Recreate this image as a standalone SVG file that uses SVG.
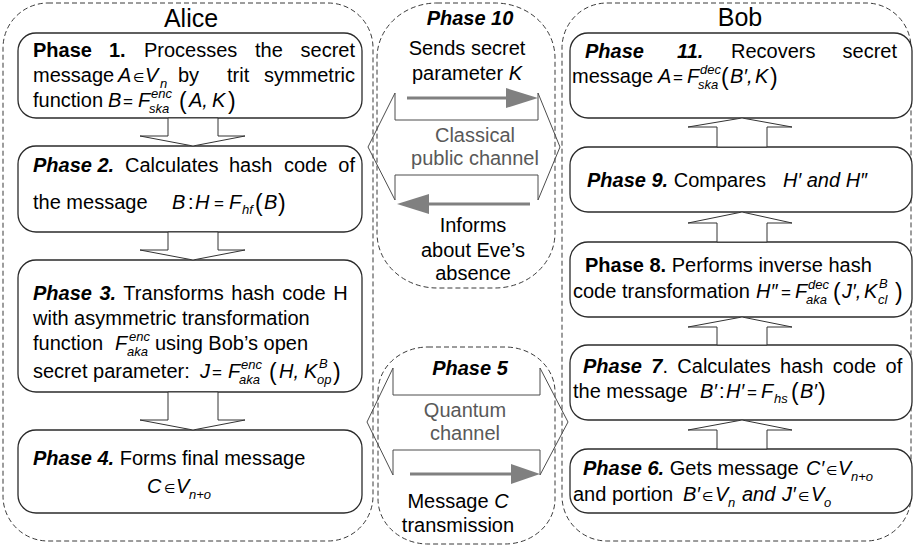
<svg xmlns="http://www.w3.org/2000/svg" width="914" height="546" viewBox="0 0 914 546">
<style>
text { font-family: "Liberation Sans", Arial, "DejaVu Sans", sans-serif; font-size: 20px; fill: #000; }
.b { font-weight: bold; }
.bi { font-weight: bold; font-style: italic; }
.i { font-style: italic; }
.s { font-size: 13px; font-style: italic; }
.p { font-size: 23px; }
.q { font-size: 17px; }
.e { font-family: "DejaVu Sans", sans-serif; font-size: 13px; }
.ttl { font-size: 25px; text-anchor: middle; }
.c { text-anchor: middle; }
.r { text-anchor: end; }
.g { fill: #595959; }
.box { fill: #fff; stroke: #2b2b2b; stroke-width: 1.3; }
.cont { fill: none; stroke: #3a3a3a; stroke-width: 1; stroke-dasharray: 5 3; }
.hol { fill: #fff; stroke: #333; stroke-width: 1; }
.chan { fill: none; stroke: #4d4d4d; stroke-width: 1; }
.ga { stroke: #808080; stroke-width: 3; }
.gh { fill: #808080; }
</style>
<rect width="914" height="546" fill="#fff"/>

<g id="alice">
<rect class="cont" x="3" y="3" width="370" height="538" rx="45"/>
<text class="ttl" x="191" y="27">Alice</text>
</g>

<g id="bob">
<rect class="cont" x="562" y="3" width="349" height="538" rx="45"/>
<text class="ttl" x="740" y="26">Bob</text>
</g>

<g id="phase10">
<rect class="cont" x="377" y="3" width="178" height="285" rx="60" ry="55"/>
<polygon class="chan" points="395,93 395,120 538,120 538,93 560,147 538,200 538,175 395,175 395,200 368,147"/>
<text class="bi c" x="470" y="25">Phase 10</text>
<text class="c" x="467" y="55">Sends secret</text>
<text class="c" x="467" y="80">parameter <tspan class="i">K</tspan></text>
<text class="c g" x="475" y="142">Classical</text>
<text class="c g" x="475" y="165">public channel</text>
<text class="c" x="473" y="232">Informs</text>
<text class="c" x="473" y="257">about Eve’s</text>
<text class="c" x="473" y="280">absence</text>
</g>

<g id="phase5">
<rect class="cont" x="378" y="347" width="177" height="197" rx="50" ry="45"/>
<polygon class="chan" points="393,368 393,395 540,395 540,368 568,422 540,475 540,450 393,450 393,475 367,422"/>
<text class="bi c" x="470" y="375">Phase 5</text>
<text class="c g" x="465" y="417">Quantum</text>
<text class="c g" x="465" y="440">channel</text>
<text class="c" x="458" y="508">Message <tspan class="i">C</tspan></text>
<text class="c" x="458" y="532">transmission</text>
</g>

<g id="phase1">
<rect class="box" x="18" y="33" width="344" height="85" rx="18"/>
<text class="b" x="33" y="57">Phase</text>
<text class="b" x="109" y="57">1.</text>
<text x="144" y="57">Processes</text>
<text x="255" y="57">the</text>
<text class="r" x="355" y="57">secret</text>
<text x="33" y="82">message</text>
<text class="i" x="118" y="82">A</text>
<text class="e" x="133" y="82">∈</text>
<text class="i" x="145" y="82">V</text>
<text class="s" x="160" y="88">n</text>
<text x="178" y="82">by</text>
<text x="227" y="82">trit</text>
<text class="r" x="355" y="82">symmetric</text>
<text x="33" y="107">function</text>
<text class="i" x="108" y="107">B</text>
<text class="q" x="123" y="107">=</text>
<text class="i" x="138" y="107">F</text>
<text class="s" x="151" y="98">enc</text>
<text class="s" x="149" y="113">ska</text>
<text class="p" x="179" y="109">(</text>
<text class="i" x="189" y="107">A,</text>
<text class="i" x="212" y="107">K</text>
<text class="p" x="228" y="109">)</text>
</g>

<g id="phase2">
<rect class="box" x="18" y="146" width="344" height="86" rx="18"/>
<text class="bi" x="33" y="172">Phase 2.</text>
<text x="125" y="172">Calculates</text>
<text x="229" y="172">hash</text>
<text x="284" y="172">code</text>
<text class="r" x="355" y="172">of</text>
<text x="33" y="209">the message</text>
<text class="i" x="172" y="209">B</text>
<text x="188" y="209">:</text>
<text class="i" x="195" y="209">H</text>
<text class="q" x="214" y="209">=</text>
<text class="i" x="229" y="209">F</text>
<text class="s" x="242" y="214">hf</text>
<text class="p" x="255" y="211">(</text>
<text class="i" x="264" y="209">B</text>
<text class="p" x="278" y="211">)</text>
</g>

<g id="phase3">
<rect class="box" x="18" y="260" width="344" height="132" rx="18"/>
<text x="33" y="300" word-spacing="2"><tspan class="bi">Phase 3.</tspan> Transforms hash code H</text>
<text x="33" y="325">with asymmetric transformation</text>
<text x="33" y="350">function</text>
<text class="i" x="115" y="350">F</text>
<text class="s" x="129" y="341">enc</text>
<text class="s" x="127" y="356">aka</text>
<text x="155" y="350">using Bob’s open</text>
<text x="33" y="378">secret parameter:</text>
<text class="i" x="200" y="378">J</text>
<text class="q" x="212" y="378">=</text>
<text class="i" x="228" y="378">F</text>
<text class="s" x="241" y="369">enc</text>
<text class="s" x="239" y="384">aka</text>
<text class="p" x="269" y="380">(</text>
<text class="i" x="279" y="378">H,</text>
<text class="i" x="304" y="378">K</text>
<text class="s" x="319" y="368">B</text>
<text class="s" x="317" y="384">op</text>
<text class="p" x="333" y="380">)</text>
</g>

<g id="phase4">
<rect class="box" x="18" y="430" width="344" height="83" rx="18"/>
<text x="33" y="465"><tspan class="bi">Phase 4.</tspan> Forms final message</text>
<text class="i" x="147" y="493">C</text>
<text class="e" x="164" y="493">∈</text>
<text class="i" x="176" y="493">V</text>
<text class="s" x="189" y="499">n+o</text>
</g>

<g id="phase11">
<rect class="box" x="570" y="33" width="342" height="85" rx="18"/>
<text class="bi" x="585" y="58">Phase</text>
<text class="bi" x="677" y="58">11.</text>
<text x="731" y="58">Recovers</text>
<text class="r" x="897" y="58">secret</text>
<text x="572" y="83">message</text>
<text class="i" x="658" y="83">A</text>
<text class="q" x="673" y="83">=</text>
<text class="i" x="687" y="83">F</text>
<text class="s" x="700" y="74">dec</text>
<text class="s" x="698" y="89">ska</text>
<text class="p" x="721" y="85">(</text>
<text class="i" x="730" y="83">B′,</text>
<text class="i" x="755" y="83">K</text>
<text class="p" x="770" y="85">)</text>
</g>

<g id="phase9">
<rect class="box" x="570" y="147" width="342" height="65" rx="18"/>
<text x="587" y="187"><tspan class="bi">Phase 9.</tspan> Compares</text>
<text class="i" x="783" y="187">H′ and H″</text>
</g>

<g id="phase8">
<rect class="box" x="570" y="242" width="342" height="75" rx="18"/>
<text x="585" y="272"><tspan class="b">Phase 8.</tspan> Performs inverse hash</text>
<text x="573" y="298">code transformation</text>
<text class="i" x="756" y="298">H″</text>
<text class="q" x="781" y="298">=</text>
<text class="i" x="795" y="298">F</text>
<text class="s" x="808" y="289">dec</text>
<text class="s" x="806" y="304">aka</text>
<text class="p" x="833" y="300">(</text>
<text class="i" x="842" y="298">J′,</text>
<text class="i" x="864" y="298">K</text>
<text class="s" x="879" y="288">B</text>
<text class="s" x="878" y="304">cl</text>
<text class="p" x="895" y="300">)</text>
</g>

<g id="phase7">
<rect class="box" x="570" y="345" width="342" height="75" rx="18"/>
<text x="583" y="373" word-spacing="3.8"><tspan class="bi">Phase 7</tspan>. Calculates hash code of</text>
<text x="573" y="398">the message</text>
<text class="i" x="700" y="398">B′</text>
<text x="719" y="398">:</text>
<text class="i" x="726" y="398">H′</text>
<text class="q" x="747" y="398">=</text>
<text class="i" x="761" y="398">F</text>
<text class="s" x="774" y="403">hs</text>
<text class="p" x="791" y="400">(</text>
<text class="i" x="800" y="398">B′</text>
<text class="p" x="818" y="400">)</text>
</g>

<g id="phase6">
<rect class="box" x="570" y="449" width="342" height="64" rx="18"/>
<text x="583" y="475"><tspan class="bi">Phase 6.</tspan> Gets message</text>
<text class="i" x="806" y="475">C′</text>
<text class="e" x="826" y="475">∈</text>
<text class="i" x="838" y="475">V</text>
<text class="s" x="851" y="481">n+o</text>
<text x="573" y="501">and portion</text>
<text class="i" x="683" y="501">B′</text>
<text class="e" x="702" y="501">∈</text>
<text class="i" x="715" y="501">V</text>
<text class="s" x="728" y="507">n</text>
<text class="i" x="742" y="501">and</text>
<text class="i" x="782" y="501">J′</text>
<text class="e" x="798" y="501">∈</text>
<text class="i" x="811" y="501">V</text>
<text class="s" x="824" y="507">o</text>
</g>

<g id="connectors">
<polygon class="hol" points="168,118 218,118 218,136 245,136 193,146 140,136 168,136"/>
<polygon class="hol" points="168,232 218,232 218,250 245,250 193,260 140,250 168,250"/>
<polygon class="hol" points="168,392 218,392 218,420 245,420 193,430 140,420 168,420"/>
<polygon class="hol" points="717,449 767,449 767,430 792,430 742,420 688,430 717,430"/>
<polygon class="hol" points="717,345 767,345 767,327 792,327 742,317 688,327 717,327"/>
<polygon class="hol" points="717,242 767,242 767,223 792,223 742,212 688,223 717,223"/>
<polygon class="hol" points="717,147 767,147 767,127 792,127 742,118 688,127 717,127"/>
<line class="ga" x1="407" y1="98" x2="510" y2="98"/>
<polygon class="gh" points="506,88 538,98 506,108"/>
<line class="ga" x1="530" y1="204" x2="425" y2="204"/>
<polygon class="gh" points="429,194 397,204 429,214"/>
<line class="ga" x1="410" y1="474" x2="514" y2="474"/>
<polygon class="gh" points="511,464 540,474 511,484"/>
</g>
</svg>
